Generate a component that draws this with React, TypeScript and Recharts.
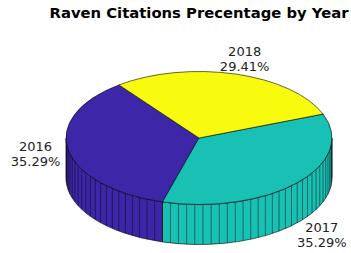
import { Cell, Pie, PieChart } from "recharts";

const years = ["2016", "2017", "2018"];
const citations = [6, 6, 5];
const colors = ["#3e26a8", "#19c0b4", "#f9fb0e"];

const TILT = 0.5; // ry / rx of the top face
const DEPTH = 40; // height of the side wall in px
const total = citations.reduce((a, b) => a + b, 0);

const data = years.map((year, i) => ({ year, value: citations[i] }));

const rad = (deg: number) => (deg * Math.PI) / 180;

type SliceProps = {
  cx: number;
  cy: number;
  outerRadius: number;
  startAngle: number;
  endAngle: number;
  fill: string;
  value?: number;
  payload?: { value: number };
};

function Slice3D(props: SliceProps) {
  const { cx, cy, outerRadius, startAngle, endAngle, fill } = props;
  const rx = outerRadius;
  const ry = outerRadius * TILT;
  const pt = (deg: number, dy = 0) => [cx + rx * Math.cos(rad(deg)), cy - ry * Math.sin(rad(deg)) + dy];
  const a = Math.min(startAngle, endAngle);
  const b = Math.max(startAngle, endAngle);
  const value = props.payload?.value ?? props.value ?? 0;
  const n = Math.max(1, Math.ceil((value / total) * 100));
  const step = (b - a) / n;

  // visible part of the side wall: angles where sin < 0
  const walls: [number, number][] = [];
  for (let k = 0; k < 2; k++) {
    const lo = Math.max(a, 180 + 360 * k);
    const hi = Math.min(b, 360 + 360 * k);
    if (hi > lo) walls.push([lo, hi]);
  }

  const arc = (from: number, to: number, dy: number, sweep: number) => {
    const [x, y] = pt(to, dy);
    const large = Math.abs(to - from) > 180 ? 1 : 0;
    return `A ${rx} ${ry} 0 ${large} ${sweep} ${x} ${y}`;
  };

  const p0 = pt(a);
  const topPath = `M ${cx} ${cy} L ${p0[0]} ${p0[1]} ${arc(a, b, 0, 0)} Z`;

  return (
    <g>
      {walls.map(([lo, hi], wi) => {
        const s = pt(lo);
        const e = pt(hi, DEPTH);
        const d = `M ${s[0]} ${s[1]} ${arc(lo, hi, 0, 0)} L ${e[0]} ${e[1]} ${arc(hi, lo, DEPTH, 1)} Z`;
        const lines = [];
        for (let i = 0; i <= n; i++) {
          const t = a + i * step;
          if (t < lo - 0.01 || t > hi + 0.01) continue;
          const [x1, y1] = pt(t);
          const [, y2] = pt(t, DEPTH);
          lines.push(<line key={i} x1={x1} y1={y1} x2={x1} y2={y2} stroke="#000" strokeOpacity={0.75} strokeWidth={0.6} />);
        }
        return (
          <g key={wi}>
            <path d={d} fill={fill} stroke="#000" strokeWidth={0.6} />
            {lines}
          </g>
        );
      })}
      <path d={topPath} fill={fill} stroke="#000" strokeWidth={0.6} strokeLinejoin="round" />
    </g>
  );
}

type LabelProps = {
  cx: number;
  cy: number;
  midAngle: number;
  outerRadius: number;
  percent: number;
  index: number;
};

function renderLabel({ cx, cy, midAngle, outerRadius, percent, index }: LabelProps) {
  const s = Math.sin(rad(midAngle));
  const x = cx + 1.25 * outerRadius * Math.cos(rad(midAngle));
  const y = cy - 1.25 * outerRadius * TILT * s + (s < -0.5 ? DEPTH : 0);
  return (
    <text x={x} y={y} textAnchor="middle" fontSize={13} fill="#222" fontFamily="DejaVu Sans">
      <tspan x={x} y={y - 2}>{years[index]}</tspan>
      <tspan x={x} y={y + 13}>{`${(percent * 100).toFixed(2)}%`}</tspan>
    </text>
  );
}

export default function App() {
  return (
    <div style={{ position: "absolute", left: 0, top: 0, width: 351, height: 253, background: "#fff" }}>
      <div
        style={{
          position: "absolute",
          left: 0,
          top: 4,
          width: 351,
          paddingLeft: 47,
          boxSizing: "border-box",
          textAlign: "center",
          fontFamily: "DejaVu Sans",
          fontWeight: "bold",
          fontSize: 14.8,
          color: "#000",
          whiteSpace: "nowrap",
        }}
      >
        Raven Citations Precentage by Year
      </div>
      <PieChart width={351} height={253}>
        <Pie
          data={data}
          dataKey="value"
          nameKey="year"
          cx={194}
          cy={133}
          outerRadius={133}
          startAngle={127}
          endAngle={487}
          stroke="#000"
          shape={Slice3D as any}
          label={renderLabel as any}
          labelLine={false}
          isAnimationActive={false}
        >
          {data.map((d, i) => (
            <Cell key={d.year} fill={colors[i]} />
          ))}
        </Pie>
      </PieChart>
    </div>
  );
}
